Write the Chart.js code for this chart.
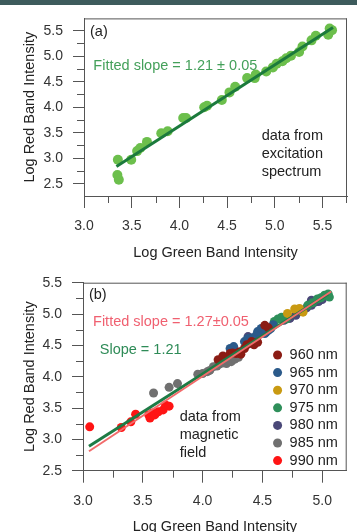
<!DOCTYPE html>
<html>
<head>
<meta charset="utf-8">
<script src="https://cdn.jsdelivr.net/npm/chart.js@4.4.1/dist/chart.umd.min.js"></script>
<style>
  html, body { margin: 0; padding: 0; background: #fff; width: 357px; height: 532px; overflow: hidden; }
  #band { position: absolute; left: 0; top: 0; width: 357px; height: 5px; background: #3d5b5c; z-index: 2; }
  canvas { position: absolute; left: 0; }
  #chartA { top: 0; }
  #chartB { top: 262px; }
</style>
</head>
<body>
<div id="band"></div>
<canvas id="chartA" width="357" height="262"></canvas>
<canvas id="chartB" width="357" height="275"></canvas>
<script>
// ---- (a) excitation spectrum ----
const EXC_X = [3.35, 3.365, 3.355, 3.495, 3.557, 3.59, 3.66, 3.81, 3.877, 4.04, 4.07, 4.26, 4.29, 4.445,
  4.525, 4.585, 4.71, 4.79, 4.80, 4.91, 4.98, 5.02, 5.08, 5.12, 5.17, 5.255, 5.29, 5.385, 5.43, 5.56, 5.575, 5.60];
const EXC_Y = [2.67, 2.58, 2.97, 2.97, 3.14, 3.20, 3.32, 3.49, 3.53, 3.79, 3.79, 4.00, 4.03, 4.14,
  4.29, 4.40, 4.57, 4.57, 4.64, 4.70, 4.78, 4.85, 4.90, 4.96, 5.01, 5.08, 5.19, 5.31, 5.40, 5.42, 5.54, 5.51];
const FIT_A_X = [3.34, 5.61];
const FIT_A_Y = [2.84, 5.56];

// ---- (b) magnetic field ----
const WAVELENGTHS = ['960 nm', '965 nm', '970 nm', '975 nm', '980 nm', '985 nm', '990 nm'];
const MAG_960 = [[4.13, 4.27], [4.17, 4.33], [4.23, 4.37], [4.25, 4.38], [4.28, 4.37], [4.31, 4.40],
  [4.32, 4.36], [4.35, 4.45], [4.37, 4.51], [4.41, 4.56], [4.43, 4.51], [4.46, 4.55], [4.52, 4.82],
  [4.55, 4.78]];
const MAG_965 = [[4.23, 4.45], [4.26, 4.48], [4.35, 4.56], [4.38, 4.61], [4.42, 4.62], [4.45, 4.66],
  [4.48, 4.69], [4.46, 4.72], [4.49, 4.77], [4.52, 4.69], [4.53, 4.71], [4.55, 4.74], [4.57, 4.77],
  [4.59, 4.83]];
const MAG_970 = [[4.71, 5.01], [4.77, 5.08], [4.81, 5.09], [4.84, 5.03]];
const MAG_975 = [[4.60, 4.88], [4.63, 4.92], [4.66, 4.95], [4.70, 4.92], [4.88, 5.14], [4.92, 5.18],
  [4.96, 5.24], [4.99, 5.26], [5.02, 5.30], [5.05, 5.32], [5.06, 5.27]];
const MAG_980 = [[4.38, 4.64], [4.41, 4.53], [4.45, 4.56], [4.68, 4.90], [4.73, 4.93], [4.78, 4.98],
  [4.83, 5.04], [4.87, 5.10], [4.91, 5.14], [4.94, 5.19], [4.91, 5.22], [4.97, 5.20], [5.00, 5.23]];
const MAG_985 = [[3.59, 3.74], [3.72, 3.83], [3.79, 3.89], [3.96, 4.04], [4.00, 4.05], [4.04, 4.08],
  [4.06, 4.10], [4.09, 4.16], [4.12, 4.17], [4.14, 4.20], [4.17, 4.22], [4.20, 4.21], [4.22, 4.25],
  [4.24, 4.24], [4.27, 4.28], [4.30, 4.31]];
const MAG_990 = [[3.056, 3.20], [3.32, 3.19], [3.40, 3.28], [3.44, 3.40], [3.55, 3.39], [3.56, 3.34],
  [3.58, 3.42], [3.60, 3.39], [3.63, 3.44], [3.67, 3.47], [3.69, 3.55], [3.72, 3.53]];
const FIT_B_X = [3.05, 5.075];
const FIT_B_Y = [2.81, 5.36];
const SLOPE_B_X = [3.05, 5.05];
const SLOPE_B_Y = [2.89, 5.32];

const FONT = "'Liberation Sans', Arial, sans-serif";
const AXIS = '#555';
const WL_COLORS = ['#8b1c14', '#2b5a8a', '#c99a12', '#2e8f5a', '#4a4878', '#707070', '#ff1414'];

const NOTES = {
  chartA: [
    { x: 3.063, y: 5.48, lines: ['(a)'], color: '#222' },
    { x: 3.098, y: 4.80, lines: ['Fitted slope = 1.21 ± 0.05'], color: '#44a05a' },
    { x: 4.863, y: 3.43, lines: ['data from', 'excitation', 'spectrum'], color: '#222' },
  ],
  chartB: [
    { x: 3.05, y: 5.30, lines: ['(b)'], color: '#222' },
    { x: 3.084, y: 4.88, lines: ['Fitted slope = 1.27±0.05'], color: '#f06070' },
    { x: 3.14, y: 4.43, lines: ['Slope = 1.21'], color: '#2e8b57' },
    { x: 3.808, y: 3.36, lines: ['data from', 'magnetic', 'field'], color: '#222' },
  ],
};

const pts = (xs, ys) => xs.map((x, i) => ({ x, y: ys[i] }));
const pairs = arr => arr.map(([x, y]) => ({ x, y }));

Chart.defaults.font.family = FONT;

const frame = {
  id: 'frame',
  afterDatasetsDraw(chart) {
    const { ctx, chartArea: a, scales } = chart;
    ctx.save();
    ctx.strokeStyle = AXIS;
    ctx.lineWidth = 1;
    ctx.beginPath();
    ctx.moveTo(a.left, a.top + 0.5); ctx.lineTo(a.right, a.top + 0.5);
    ctx.moveTo(a.right - 0.5, a.top); ctx.lineTo(a.right - 0.5, a.bottom);
    // minor ticks halfway between majors
    const minor = s => {
      const vals = [];
      const step = s.ticks.length > 1 ? s.ticks[1].value - s.ticks[0].value : 0.5;
      s.ticks.forEach(t => vals.push(t.value + step / 2));
      vals.push(s.ticks[0].value - step / 2);
      return vals.filter(v => v >= s.min && v <= s.max);
    };
    minor(scales.x).forEach(v => {
      const p = Math.round(scales.x.getPixelForValue(v)) + 0.5;
      ctx.moveTo(p, a.bottom); ctx.lineTo(p, a.bottom + 7);
    });
    minor(scales.y).forEach(v => {
      const p = Math.round(scales.y.getPixelForValue(v)) + 0.5;
      ctx.moveTo(a.left, p); ctx.lineTo(a.left - 7, p);
    });
    ctx.stroke();

    ctx.font = '14.5px ' + FONT;
    ctx.textBaseline = 'middle';
    ctx.textAlign = 'left';
    (NOTES[chart.canvas.id] || []).forEach(n => {
      const px = scales.x.getPixelForValue(n.x);
      const py = scales.y.getPixelForValue(n.y);
      ctx.fillStyle = n.color;
      n.lines.forEach((t, i) => ctx.fillText(t, px, py + i * 18));
    });

    if (chart.canvas.id === 'chartB') {
      const lx = scales.x.getPixelForValue(4.627);
      let ly = scales.y.getPixelForValue(4.346);
      chart.data.datasets.filter(d => !d.showLine).forEach(d => {
        ctx.fillStyle = d.backgroundColor;
        ctx.beginPath();
        ctx.arc(lx, ly, 4.5, 0, Math.PI * 2);
        ctx.fill();
        ctx.fillStyle = '#222';
        ctx.fillText(d.label, lx + 12, ly);
        ly += 17.6;
      });
    }
    ctx.restore();
  }
};

function axes(xMin, xMax, yMin, yMax, yWidth, xHeight, xTitlePad) {
  const common = {
    type: 'linear',
    grid: { drawOnChartArea: false, color: AXIS, tickColor: AXIS },
    border: { color: AXIS },
  };
  return {
    x: {
      ...common,
      min: xMin, max: xMax,
      grid: { ...common.grid, tickLength: 12 },
      ticks: { stepSize: 0.5, includeBounds: false, maxRotation: 0, padding: 10, color: '#333',
        font: { size: 14 }, callback: v => v.toFixed(1) },
      title: { display: true, text: 'Log Green Band Intensity', color: '#222', font: { size: 14.5 },
        padding: { top: 0, bottom: xTitlePad } },
      afterFit: s => { s.height = xHeight; },
    },
    y: {
      ...common,
      min: yMin, max: yMax,
      grid: { ...common.grid, tickLength: 11 },
      ticks: { stepSize: 0.5, includeBounds: false, padding: 10, color: '#333',
        font: { size: 14 }, callback: v => v.toFixed(1) },
      title: { display: true, text: 'Log Red Band Intensity', color: '#222', font: { size: 14.5 },
        padding: { top: 21, bottom: 0 } },
      afterFit: s => { s.width = yWidth; },
    },
  };
}

const base = {
  responsive: false,
  animation: false,
  devicePixelRatio: 1,
  plugins: { legend: { display: false }, tooltip: { enabled: false } },
};

new Chart(document.getElementById('chartA'), {
  type: 'scatter',
  data: {
    datasets: [
      { label: 'fit', data: pts(FIT_A_X, FIT_A_Y), showLine: true, borderColor: '#1b7a3c',
        borderWidth: 3, pointRadius: 0 },
      { label: 'excitation', data: pts(EXC_X, EXC_Y), backgroundColor: '#6cbf4c',
        borderWidth: 0, pointRadius: 5 },
    ],
  },
  options: {
    ...base,
    layout: { padding: { top: 8, right: 10, left: 0, bottom: 0 } },
    scales: axes(3.0, 5.757, 2.26, 5.74, 84, 66, 0.3),
  },
  plugins: [frame],
});

const MAG = [MAG_960, MAG_965, MAG_970, MAG_975, MAG_980, MAG_985, MAG_990];

new Chart(document.getElementById('chartB'), {
  type: 'scatter',
  data: {
    datasets: [
      { label: 'fit', data: pts(FIT_B_X, FIT_B_Y), showLine: true, borderColor: '#f26b6b',
        borderWidth: 2, pointRadius: 0 },
      { label: 'slope', data: pts(SLOPE_B_X, SLOPE_B_Y), showLine: true, borderColor: '#1e7b45',
        borderWidth: 3, pointRadius: 0 },
      ...WAVELENGTHS.map((w, i) => ({
        label: w, data: pairs(MAG[i]), backgroundColor: WL_COLORS[i], borderWidth: 0, pointRadius: 4.5,
      })),
    ],
  },
  options: {
    ...base,
    layout: { padding: { top: 20.7, right: 10.3, left: 0, bottom: 0 } },
    scales: axes(3.0, 5.205, 2.5, 5.5, 83, 66.3, 1.6),
  },
  plugins: [frame],
});
</script>
</body>
</html>
